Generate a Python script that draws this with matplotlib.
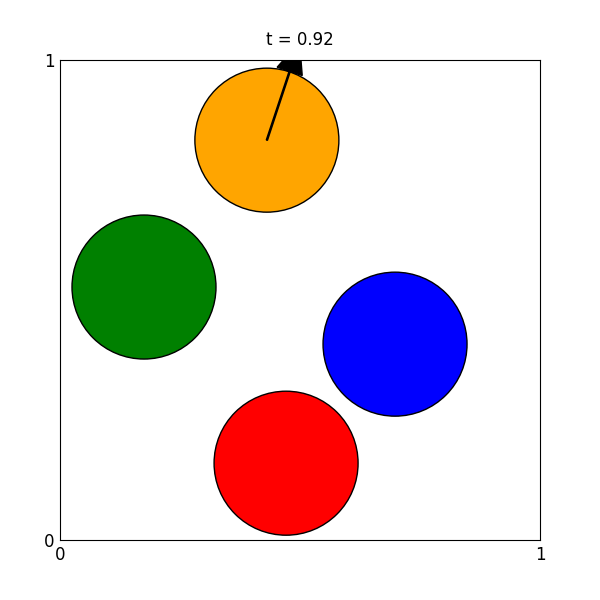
import numpy as np
import matplotlib
matplotlib.use("Agg")
import matplotlib.pyplot as plt
from matplotlib.patches import Circle

# ball positions at t = 0.92
xs = [0.431, 0.175, 0.698, 0.471]
ys = [0.833, 0.527, 0.408, 0.160]
colors = ["orange", "green", "blue", "red"]
radius = 0.15
t = 0.92

# velocity arrow on the orange ball
arrow_dx, arrow_dy = 0.068, 0.205

fig = plt.figure(figsize=(6, 6), dpi=100)
ax = fig.add_axes([0.1, 0.1, 0.8, 0.8])

for x, y, c in zip(xs, ys, colors):
    ax.add_patch(Circle((x, y), radius, facecolor=c, edgecolor="black", linewidth=1))

ax.arrow(xs[0], ys[0], arrow_dx, arrow_dy, width=0.0025, head_width=0.055,
         head_length=0.065, length_includes_head=True, color="black", clip_on=True)

ax.set_xlim(0, 1)
ax.set_ylim(0, 1)
ax.set_xticks([0, 1])
ax.set_yticks([0, 1])
ax.tick_params(length=0, labelsize=12, pad=4)
ax.set_title("t = %.2f" % t, fontsize=12, pad=11)

plt.savefig("out.png")
